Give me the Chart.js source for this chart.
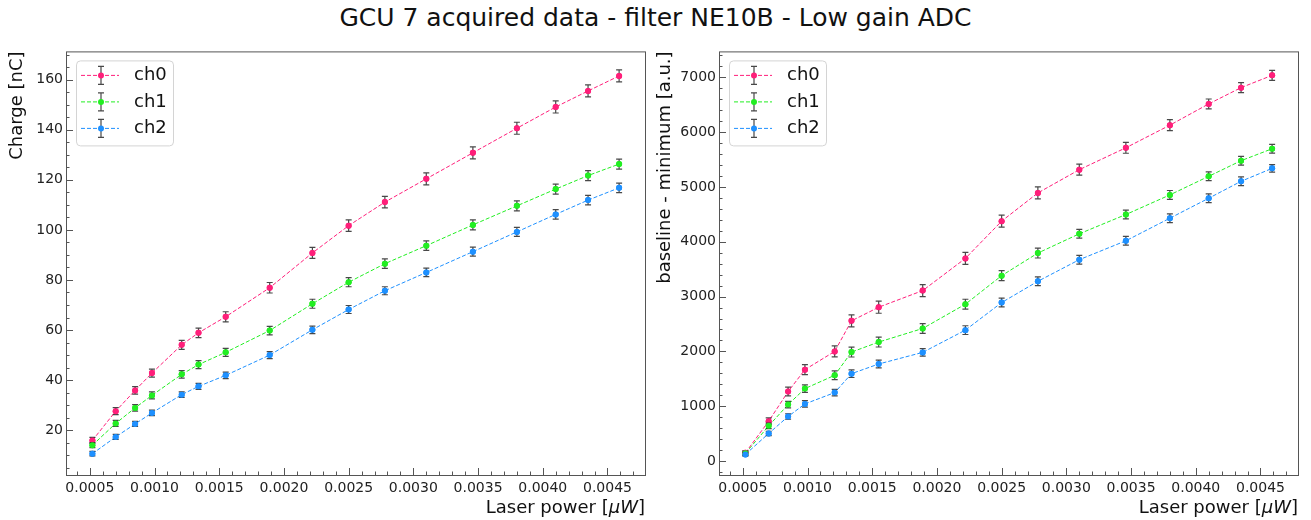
<!DOCTYPE html>
<html>
<head>
<meta charset="utf-8">
<script src="https://cdn.jsdelivr.net/npm/chart.js@4"></script>
<style>
body { margin: 0; background: #fff; width: 1311px; height: 520px; overflow: hidden; font-family: "DejaVu Sans", sans-serif; }
#title { position: absolute; left: 0; top: 3px; width: 1311px; text-align: center; font-size: 25px; color: #111; }
.box { position: absolute; top: 40px; height: 480px; }
</style>
</head>
<body>
<div id="title">GCU 7 acquired data - filter NE10B - Low gain ADC</div>
<div class="box" style="left:0"><canvas id="chargeChart" width="655" height="480"></canvas></div>
<div class="box" style="left:655px"><canvas id="adcChart" width="656" height="480"></canvas></div>
<script>
// laser power for every point [uW]
const laserPower = [0.00052, 0.00070, 0.00085, 0.00098, 0.00121, 0.00134, 0.00155, 0.00189, 0.00222,
                    0.00250, 0.00278, 0.00310, 0.00346, 0.00380, 0.00410, 0.00435, 0.00459];

// charge [nC]
const chargeCh0 = [15.9, 27.6, 35.9, 42.8, 54.1, 58.9, 65.3, 76.9, 90.8, 101.7, 111.1, 120.4, 130.8, 140.6, 149.1, 155.5, 161.5];
const chargeCh1 = [14.0, 22.7, 28.9, 33.9, 42.3, 46.2, 51.1, 59.8, 70.5, 79.1, 86.5, 93.7, 102.0, 109.6, 116.3, 121.7, 126.3];
const chargeCh2 = [10.6, 17.3, 22.5, 26.9, 34.2, 37.5, 41.9, 50.0, 60.1, 68.2, 75.7, 83.0, 91.3, 99.2, 106.2, 111.9, 116.8];
const chargeErrCh0 = [1.2, 1.4, 1.5, 1.6, 1.8, 1.9, 2.0, 2.1, 2.2, 2.3, 2.3, 2.4, 2.4, 2.4, 2.4, 2.4, 2.4];
const chargeErrCh1 = [1.0, 1.2, 1.3, 1.4, 1.5, 1.6, 1.6, 1.7, 1.8, 1.8, 1.9, 1.9, 2.0, 2.0, 2.0, 2.0, 2.0];
const chargeErrCh2 = [0.9, 1.0, 1.0, 1.1, 1.1, 1.2, 1.3, 1.4, 1.5, 1.6, 1.6, 1.7, 1.8, 1.8, 1.9, 1.9, 1.9];

// baseline - minimum [a.u.]
const adcCh0 = [150, 727, 1267, 1667, 2000, 2558, 2806, 3109, 3697, 4376, 4891, 5315, 5715, 6127, 6515, 6812, 7036];
const adcCh1 = [140, 642, 1030, 1321, 1564, 1988, 2170, 2418, 2861, 3382, 3794, 4145, 4497, 4855, 5194, 5479, 5697];
const adcCh2 = [121, 503, 812, 1042, 1248, 1594, 1770, 1982, 2388, 2891, 3279, 3673, 4018, 4430, 4794, 5103, 5339];
const adcErrCh0 = [40, 60, 80, 90, 100, 110, 110, 110, 110, 110, 110, 100, 100, 100, 90, 90, 90];
const adcErrCh1 = [35, 50, 60, 70, 80, 90, 90, 90, 90, 90, 90, 80, 80, 80, 80, 80, 80];
const adcErrCh2 = [30, 40, 50, 60, 60, 70, 70, 70, 80, 80, 80, 80, 80, 80, 80, 80, 70];

// tick labels
const xTickValues = [0.0005, 0.0010, 0.0015, 0.0020, 0.0025, 0.0030, 0.0035, 0.0040, 0.0045];
const chargeTicks = [20, 40, 60, 80, 100, 120, 140, 160];
const adcTicks = [0, 1000, 2000, 3000, 4000, 5000, 6000, 7000];

const channelNames = ['ch0', 'ch1', 'ch2'];
const channelColors = ['#ff1f7a', '#22ee22', '#1e90ff'];

const FONT = '"DejaVu Sans", sans-serif';

// error bars, drawn under the markers
const errorBars = {
    id: 'errorBars',
    afterDatasetsDraw(chart) {
        const ctx = chart.ctx, y = chart.scales.y;
        ctx.save();
        ctx.strokeStyle = 'rgba(40,40,40,0.85)';
        ctx.lineWidth = 1.2;
        chart.data.datasets.forEach((ds, i) => {
            chart.getDatasetMeta(i).data.forEach((pt, j) => {
                const v = ds.data[j].y, e = ds.errors[j];
                const y1 = y.getPixelForValue(v - e), y2 = y.getPixelForValue(v + e);
                ctx.beginPath();
                ctx.moveTo(pt.x, y1); ctx.lineTo(pt.x, y2);
                ctx.moveTo(pt.x - 3, y1); ctx.lineTo(pt.x + 3, y1);
                ctx.moveTo(pt.x - 3, y2); ctx.lineTo(pt.x + 3, y2);
                ctx.stroke();
            });
            // marker again on top of the bar
            ctx.fillStyle = ds.borderColor;
            chart.getDatasetMeta(i).data.forEach(pt => {
                ctx.beginPath(); ctx.arc(pt.x, pt.y, 3, 0, Math.PI * 2); ctx.fill();
            });
        });
        ctx.restore();
    }
};

// frame on all sides + inward major/minor ticks (matplotlib style)
const frameTicks = {
    id: 'frameTicks',
    afterDraw(chart, args, opts) {
        const {ctx, chartArea: a, scales: {x, y}} = chart;
        ctx.save();
        ctx.strokeStyle = '#555';
        ctx.lineWidth = 1;
        ctx.strokeRect(a.left + 0.5, a.top + 0.5, a.right - a.left, a.bottom - a.top);
        ctx.beginPath();
        for (let i = Math.ceil(x.min / opts.xMinor); i * opts.xMinor <= x.max; i++) {
            const v = i * opts.xMinor;
            const r = v / opts.xMajor;
            const len = Math.abs(r - Math.round(r)) < 1e-6 ? 7 : 3.5;
            const px = Math.round(x.getPixelForValue(v)) + 0.5;
            ctx.moveTo(px, a.bottom); ctx.lineTo(px, a.bottom - len);
        }
        for (let i = Math.ceil(y.min / opts.yMinor); i * opts.yMinor <= y.max; i++) {
            const v = i * opts.yMinor;
            const r = v / opts.yMajor;
            const len = Math.abs(r - Math.round(r)) < 1e-6 ? 7 : 3.5;
            const py = Math.round(y.getPixelForValue(v)) + 0.5;
            ctx.moveTo(a.left, py); ctx.lineTo(a.left + len, py);
        }
        ctx.stroke();

        // x axis title with italic unit
        ctx.fillStyle = '#111';
        ctx.textBaseline = 'middle';
        const ty = a.bottom + 33;
        ctx.font = '18px ' + FONT;
        const p3 = ']';
        const w3 = ctx.measureText(p3).width;
        ctx.font = 'italic 18px ' + FONT;
        const w2 = ctx.measureText('\u03bcW').width;
        ctx.font = '18px ' + FONT;
        const p1 = 'Laser power [';
        const w1 = ctx.measureText(p1).width;
        let tx = a.right - w1 - w2 - w3;
        ctx.textAlign = 'left';
        ctx.fillText(p1, tx, ty);
        ctx.font = 'italic 18px ' + FONT;
        ctx.fillText('\u03bcW', tx + w1, ty);
        ctx.font = '18px ' + FONT;
        ctx.fillText(p3, tx + w1 + w2, ty);
        ctx.restore();
    }
};

// legend box with errorbar handles
const errLegend = {
    id: 'errLegend',
    afterDraw(chart) {
        const {ctx, chartArea: a} = chart;
        const bx = a.left + 10, by = a.top + 9, bw = 97, bh = 85;
        ctx.save();
        ctx.fillStyle = 'rgba(255,255,255,0.85)';
        ctx.strokeStyle = '#d4d4d4';
        ctx.lineWidth = 1;
        ctx.beginPath();
        ctx.roundRect(bx + 0.5, by + 0.5, bw, bh, 4);
        ctx.fill(); ctx.stroke();
        chart.data.datasets.forEach((ds, i) => {
            const cy = by + 15 + i * 26.5;
            ctx.strokeStyle = ds.borderColor;
            ctx.setLineDash([4, 2]);
            ctx.beginPath(); ctx.moveTo(bx + 5, cy); ctx.lineTo(bx + 43, cy); ctx.stroke();
            ctx.setLineDash([]);
            const mx = bx + 25;
            ctx.strokeStyle = 'rgba(40,40,40,0.85)';
            ctx.lineWidth = 1.2;
            ctx.beginPath();
            ctx.moveTo(mx, cy - 9); ctx.lineTo(mx, cy + 9);
            ctx.moveTo(mx - 3, cy - 9); ctx.lineTo(mx + 3, cy - 9);
            ctx.moveTo(mx - 3, cy + 9); ctx.lineTo(mx + 3, cy + 9);
            ctx.stroke();
            ctx.lineWidth = 1;
            ctx.fillStyle = ds.borderColor;
            ctx.beginPath(); ctx.arc(mx, cy, 3, 0, Math.PI * 2); ctx.fill();
            ctx.fillStyle = '#111';
            ctx.font = '18px ' + FONT;
            ctx.textBaseline = 'middle';
            ctx.fillText(ds.label, bx + 58, cy);
        });
        ctx.restore();
    }
};

function makeSets(values, errors) {
    return values.map((vals, i) => ({
        label: channelNames[i],
        data: laserPower.map((p, j) => ({x: p, y: vals[j]})),
        errors: errors[i],
        showLine: true,
        borderColor: channelColors[i],
        backgroundColor: channelColors[i],
        borderWidth: 1,
        borderDash: [4, 2],
        pointRadius: 3,
        pointBorderWidth: 0,
        tension: 0
    }));
}

function createChart(canvasId, datasets, yTitle, yMin, yMax, yTicks, yMinor, yWidth, padRight, titlePad) {
    return new Chart(document.getElementById(canvasId), {
        type: 'scatter',
        data: {datasets: datasets},
        plugins: [errorBars, frameTicks, errLegend],
        options: {
            responsive: false,
            animation: false,
            devicePixelRatio: 1,
            layout: {padding: {left: 0, right: padRight, top: 10, bottom: 0}},
            plugins: {
                legend: {display: false},
                tooltip: {enabled: false},
                frameTicks: {xMinor: 0.0001, xMajor: 0.0005, yMinor: yMinor, yMajor: yTicks[1] - yTicks[0]}
            },
            scales: {
                x: {
                    type: 'linear',
                    min: 0.000316, max: 0.00479,
                    grid: {display: false, drawTicks: false},
                    border: {display: false},
                    afterBuildTicks: s => { s.ticks = xTickValues.map(v => ({value: v})); },
                    afterFit: s => { s.height = 45; },
                    ticks: {
                        padding: 5,
                        color: '#222',
                        font: {family: FONT, size: 14},
                        maxRotation: 0,
                        callback: v => v.toFixed(4)
                    }
                },
                y: {
                    min: yMin, max: yMax,
                    grid: {display: false, drawTicks: false},
                    border: {display: false},
                    afterBuildTicks: s => { s.ticks = yTicks.map(v => ({value: v})); },
                    afterFit: s => { s.width = yWidth; },
                    title: {
                        display: true, text: yTitle, align: 'end',
                        color: '#111', font: {family: FONT, size: 18},
                        padding: {top: titlePad, bottom: 0}
                    },
                    ticks: {
                        padding: 3,
                        color: '#222',
                        font: {family: FONT, size: 14},
                        callback: v => String(v)
                    }
                }
            }
        }
    });
}

createChart('chargeChart',
    makeSets([chargeCh0, chargeCh1, chargeCh2], [chargeErrCh0, chargeErrCh1, chargeErrCh2]),
    'Charge [nC]', 2.1, 171.3, chargeTicks, 5, 66, 10, 7);

createChart('adcChart',
    makeSets([adcCh0, adcCh1, adcCh2], [adcErrCh0, adcErrCh1, adcErrCh2]),
    'baseline - minimum [a.u.]', -255, 7473, adcTicks, 200, 64, 13, 0);
</script>
</body>
</html>
